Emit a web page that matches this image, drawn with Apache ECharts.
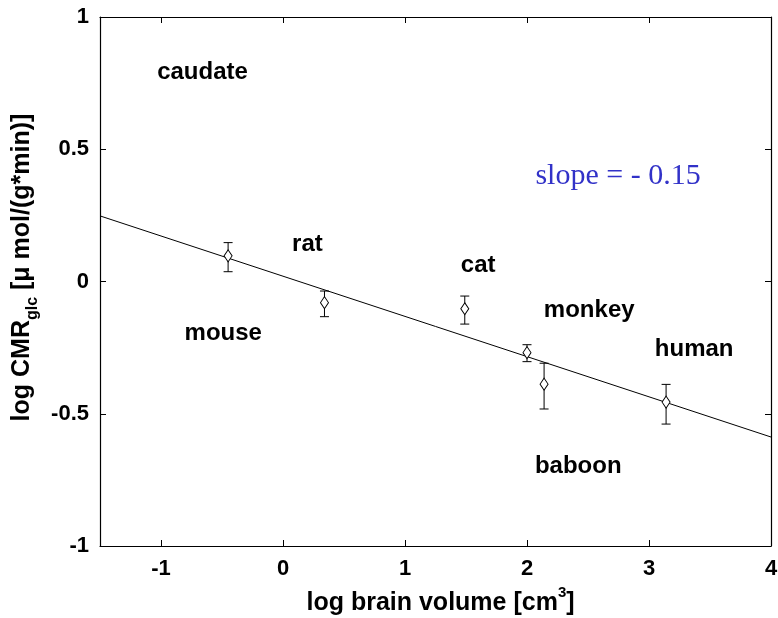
<!DOCTYPE html>
<html>
<head>
<meta charset="utf-8">
<script src="https://cdn.jsdelivr.net/npm/echarts@6/dist/echarts.min.js"></script>
<style>
html,body{margin:0;padding:0;background:#fff;}
#chart{width:778px;height:618px;}
</style>
</head>
<body>
<div id="chart"></div>
<script>
// ---- data ----
const species = ['mouse', 'rat', 'cat', 'monkey', 'baboon', 'human'];
const logBrainVolume = [-0.45, 0.34, 1.49, 2.0, 2.14, 3.14];
const logCMR = [0.097, -0.08, -0.103, -0.269, -0.388, -0.456];
const errLow = [0.037, -0.133, -0.161, -0.303, -0.482, -0.539];
const errHigh = [0.147, -0.036, -0.055, -0.239, -0.309, -0.389];

const fitX = [-1.5, 4];
const fitY = [0.248, -0.588];

const textNames = ['caudate', 'rat', 'cat', 'mouse', 'monkey', 'human', 'baboon'];
const textX = [-0.66, 0.2, 1.6, -0.49, 2.51, 3.37, 2.42];
const textY = [0.79, 0.14, 0.06, -0.195, -0.108, -0.255, -0.70];

const slopeText = 'slope = - 0.15';
const slopeX = 2.746;
const slopeY = 0.399;

const xTicks = [-1, 0, 1, 2, 3, 4];
const yTicks = [-1, -0.5, 0, 0.5, 1];
const xMin = -1.5, xMax = 4, yMin = -1, yMax = 1;

// ---- chart ----
const chart = echarts.init(document.getElementById('chart'), null, {renderer: 'canvas'});

const pts = species.map((s, i) => ({name: s, value: [logBrainVolume[i], logCMR[i]]}));
const errData = species.map((s, i) => [logBrainVolume[i], errLow[i], errHigh[i]]);
const fitData = fitX.map((x, i) => [x, fitY[i]]);
const textData = textNames.map((n, i) => ({name: n, value: [textX[i], textY[i]]}));

const tickFont = {fontFamily: 'Liberation Sans', fontWeight: 'bold', fontSize: 22, color: '#000'};
const axisLineStyle = {color: '#000', width: 1.2};

chart.setOption({
  animation: false,
  backgroundColor: '#fff',
  grid: {left: 100, right: 7, top: 17, bottom: 72, containLabel: false, outerBoundsMode: 'none'},
  xAxis: [{
    type: 'value', min: xMin, max: xMax, position: 'bottom',
    axisLine: {show: true, onZero: false, lineStyle: axisLineStyle},
    axisTick: {show: true, inside: true, length: 6, lineStyle: {color: '#000'}, customValues: xTicks},
    axisLabel: Object.assign({margin: 12, customValues: xTicks}, tickFont),
    splitLine: {show: false},
    name: '{a|log brain volume [cm}{sup|3}{a|]}',
    nameLocation: 'middle', nameGap: 33,
    nameTextStyle: {
      padding: [0, 0, 0, 10],
      rich: {
        a: {fontFamily: 'Liberation Sans', fontWeight: 'bold', fontSize: 25, color: '#000', lineHeight: 31, verticalAlign: 'bottom'},
        sup: {fontFamily: 'Liberation Sans', fontWeight: 'bold', fontSize: 15, color: '#000', lineHeight: 15, verticalAlign: 'top'}
      }
    }
  }, {
    type: 'value', min: xMin, max: xMax, position: 'top',
    axisLine: {show: true, onZero: false, lineStyle: axisLineStyle},
    axisTick: {show: true, inside: true, length: 6, lineStyle: {color: '#000'}, customValues: xTicks},
    axisLabel: {show: false},
    splitLine: {show: false}
  }],
  yAxis: [{
    type: 'value', min: yMin, max: yMax, interval: 0.5, position: 'left',
    axisLine: {show: true, onZero: false, lineStyle: axisLineStyle},
    axisTick: {show: true, inside: true, length: 6, lineStyle: {color: '#000'}},
    axisLabel: Object.assign({margin: 11, formatter: v => String(v)}, tickFont),
    splitLine: {show: false},
    name: '{a|log CMR}{sub|glc}{a| [\u03bc mol/(g*min)]}',
    nameLocation: 'middle', nameGap: 54, nameRotate: 90,
    nameTextStyle: {
      padding: [0, 0, 0, 28],
      rich: {
        a: {fontFamily: 'Liberation Sans', fontWeight: 'bold', fontSize: 25, color: '#000', lineHeight: 36},
        sub: {fontFamily: 'Liberation Sans', fontWeight: 'bold', fontSize: 16, color: '#000', lineHeight: 16, verticalAlign: 'bottom'}
      }
    }
  }, {
    type: 'value', min: yMin, max: yMax, interval: 0.5, position: 'right',
    axisLine: {show: true, onZero: false, lineStyle: axisLineStyle},
    axisTick: {show: true, inside: true, length: 6, lineStyle: {color: '#000'}},
    axisLabel: {show: false},
    splitLine: {show: false}
  }],
  series: [
    {
      type: 'line', data: fitData, xAxisIndex: 0, yAxisIndex: 0,
      showSymbol: false, symbol: 'none',
      lineStyle: {color: '#000', width: 1}, silent: true, z: 2
    },
    {
      type: 'custom', data: errData, xAxisIndex: 0, yAxisIndex: 0, z: 3,
      renderItem: function (params, api) {
        const x = api.value(0);
        const lo = api.coord([x, api.value(1)]);
        const hi = api.coord([x, api.value(2)]);
        const cap = 4.5;
        const st = {stroke: '#000', lineWidth: 1};
        return {
          type: 'group',
          children: [
            {type: 'line', shape: {x1: lo[0], y1: lo[1], x2: hi[0], y2: hi[1]}, style: st},
            {type: 'line', shape: {x1: lo[0] - cap, y1: lo[1], x2: lo[0] + cap, y2: lo[1]}, style: st},
            {type: 'line', shape: {x1: hi[0] - cap, y1: hi[1], x2: hi[0] + cap, y2: hi[1]}, style: st}
          ]
        };
      }
    },
    {
      type: 'scatter', data: pts, xAxisIndex: 0, yAxisIndex: 0, z: 4,
      symbol: 'diamond', symbolSize: [8, 12],
      itemStyle: {color: '#fff', borderColor: '#000', borderWidth: 1, opacity: 1}
    },
    {
      type: 'scatter', data: textData, xAxisIndex: 0, yAxisIndex: 0, z: 5,
      symbolSize: 0, silent: true,
      itemStyle: {opacity: 1},
      label: {
        show: true, position: 'inside', formatter: '{b}',
        fontFamily: 'Liberation Sans', fontWeight: 'bold', fontSize: 24, color: '#000',
        textBorderWidth: 0, textBorderColor: 'transparent'
      }
    },
    {
      type: 'scatter', data: [{name: slopeText, value: [slopeX, slopeY]}], xAxisIndex: 0, yAxisIndex: 0, z: 5,
      symbolSize: 0, silent: true,
      itemStyle: {opacity: 1},
      label: {
        show: true, position: 'inside', formatter: '{b}',
        fontFamily: 'Liberation Serif', fontSize: 30, color: '#3232c8',
        textBorderWidth: 0, textBorderColor: 'transparent'
      }
    }
  ]
});
</script>
</body>
</html>
